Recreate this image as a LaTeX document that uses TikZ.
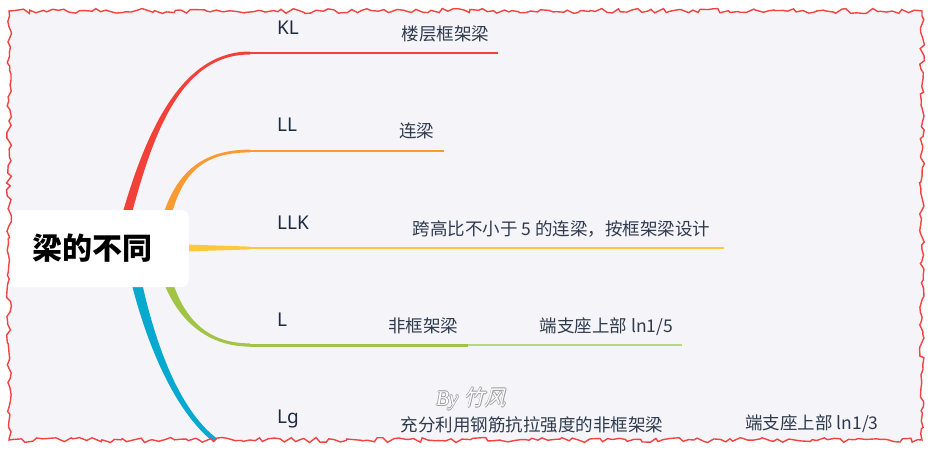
\documentclass[tikz,border=0pt]{standalone}
\usepackage{fontspec}
\setmainfont{Noto Sans}
\newfontfamily\cjk{Noto Sans CJK SC}
\newfontfamily\wmlatin{Liberation Serif}[ItalicFont={Liberation Serif Italic}]
\newfontfamily\wmcjk{Noto Sans CJK SC}[FakeSlant=0.25]
\usetikzlibrary{decorations.pathmorphing,calc}
\definecolor{bg}{HTML}{F4F4F9}
\definecolor{redc}{HTML}{F1423A}
\definecolor{orangec}{HTML}{FA9A30}
\definecolor{yellowc}{HTML}{FFC83C}
\definecolor{greenc}{HTML}{A2C446}
\definecolor{lgreenc}{HTML}{B6D77D}
\definecolor{bluec}{HTML}{07A9CF}
\definecolor{bordc}{HTML}{F24343}
\definecolor{labc}{HTML}{1C2B3F}
\definecolor{subc}{HTML}{2F3B4D}
\definecolor{wmgray}{HTML}{9A9A9A}
% tapered branch, outer edge: left at start, top at end
\newcommand\taperup[7]{%
  \fill[#1] ($(#2)+(-#6,0)$) .. controls ($(#3)+(-#6,0)$) and ($(#4)+(0,-#7)$) .. ($(#5)+(0,-#7)$)
    -- ($(#5)+(0,#7)$) .. controls ($(#4)+(0,#7)$) and ($(#3)+(#6,0)$) .. ($(#2)+(#6,0)$) -- cycle;}
% tapered branch, outer edge: left at start, bottom at end
\newcommand\taperdown[7]{%
  \fill[#1] ($(#2)+(-#6,0)$) .. controls ($(#3)+(-#6,0)$) and ($(#4)+(0,#7)$) .. ($(#5)+(0,#7)$)
    -- ($(#5)+(0,-#7)$) .. controls ($(#4)+(0,-#7)$) and ($(#3)+(#6,0)$) .. ($(#2)+(#6,0)$) -- cycle;}
\begin{document}
\begin{tikzpicture}[x=1pt,y=-1pt,
  lab/.style={font=\fontsize{19}{22}\selectfont, text=labc, inner sep=0pt, anchor=base west},
  sub/.style={font=\cjk\fontsize{17.5}{20}\selectfont, text=subc, inner sep=0pt},
  rootbox/.style={fill=white, rounded corners=8pt, minimum width=194pt, minimum height=77pt,
    inner sep=0pt, font=\cjk\bfseries\fontsize{30}{33}\selectfont, text=black},
  wm/.style={inner sep=0pt, font=\fontsize{21}{23}\selectfont},
  torn/.style={decorate, decoration={random steps, segment length=5pt, amplitude=2.5pt}}
]
\useasboundingbox (0,0) rectangle (935,450);
\fill[white] (0,0) rectangle (935,450);
\begin{scope}
\pgfmathsetseed{7}
\clip[torn] (9,11) rectangle (922,440);
\fill[bg] (0,0) rectangle (935,450);
% branch coordinates
\coordinate (kl0) at (115,260); \coordinate (klA) at (140,160); \coordinate (klB) at (170,53); \coordinate (kl3) at (250,53); \coordinate (kle) at (498,53);
\coordinate (ll0) at (160,250); \coordinate (llA) at (170,180); \coordinate (llB) at (195,151); \coordinate (ll3) at (250,151); \coordinate (lle) at (444,151);
\coordinate (lk0) at (185,248); \coordinate (lk3) at (250,248); \coordinate (lke) at (724,248);
\coordinate (l0) at (160,250); \coordinate (lA) at (170,310); \coordinate (lB) at (200,345); \coordinate (l3) at (250,345); \coordinate (lm) at (468,345); \coordinate (le) at (682,345);
\coordinate (g0) at (130,250); \coordinate (gA) at (143,325); \coordinate (gB) at (182,452); \coordinate (g3) at (255,456);
% horizontal lines
\draw[redc, line width=2.8pt] (kl3) -- (kle);
\draw[orangec, line width=2.6pt] (ll3) -- (lle);
\draw[yellowc, line width=2.5pt] (lk3) -- (lke);
\draw[greenc, line width=3pt] (l3) -- (lm);
\draw[lgreenc, line width=2.2pt] (lm) -- (le);
% tapered curves
\taperup{redc}{kl0}{klA}{klB}{kl3}{5}{1.5}
\taperup{orangec}{ll0}{llA}{llB}{ll3}{4.5}{1.4}
\fill[yellowc] ($(lk0)+(0,-3.5)$) -- ($(lk3)+(0,-1.4)$) -- ($(lk3)+(0,1.4)$) -- ($(lk0)+(0,3.5)$) -- cycle;
\taperdown{greenc}{l0}{lA}{lB}{l3}{5}{1.6}
\taperdown{bluec}{g0}{gA}{gB}{g3}{5.5}{3}
% root
\node[rootbox] (root) at (92,248.5) {梁的不同};
% labels
\node[lab] (kl) at (277,34) {KL};
\node[lab] (ll) at (277,131) {LL};
\node[lab] (llk) at (277,229) {LLK};
\node[lab] (l) at (277,326) {L};
\node[lab] (lg) at (277,423) {Lg};
% sub texts
\node[sub] (kl1) at (445.5,34) {楼层框架梁};
\node[sub] (ll1) at (416.5,130.5) {连梁};
\node[sub] (llk1) at (561.5,229) {跨高比不小于 5 的连梁，按框架梁设计};
\node[sub] (l1) at (423,326) {非框架梁};
\node[sub] (l2) at (606.5,327) {端支座上部 ln1/5};
\node[sub] (lg1) at (532,424.5) {充分利用钢筋抗拉强度的非框架梁};
\node[sub] (lg2) at (812,424) {端支座上部 ln1/3};
% watermark
\node[wm, text=wmgray] (wm1) at (471.7,399) {{\wmlatin\itshape By} {\wmcjk 竹风}};
\node[wm, text=wmgray] (wm2) at (470.3,399) {{\wmlatin\itshape By} {\wmcjk 竹风}};
\node[wm, text=wmgray] (wm3) at (471,399.7) {{\wmlatin\itshape By} {\wmcjk 竹风}};
\node[wm, text=wmgray] (wm4) at (471,398.3) {{\wmlatin\itshape By} {\wmcjk 竹风}};
\node[wm, text=white] (wm5) at (471,399) {{\wmlatin\itshape By} {\wmcjk 竹风}};
\end{scope}
\pgfmathsetseed{7}
\draw[torn, bordc, line width=1.4pt] (9,11) rectangle (922,440);
\end{tikzpicture}
\end{document}
